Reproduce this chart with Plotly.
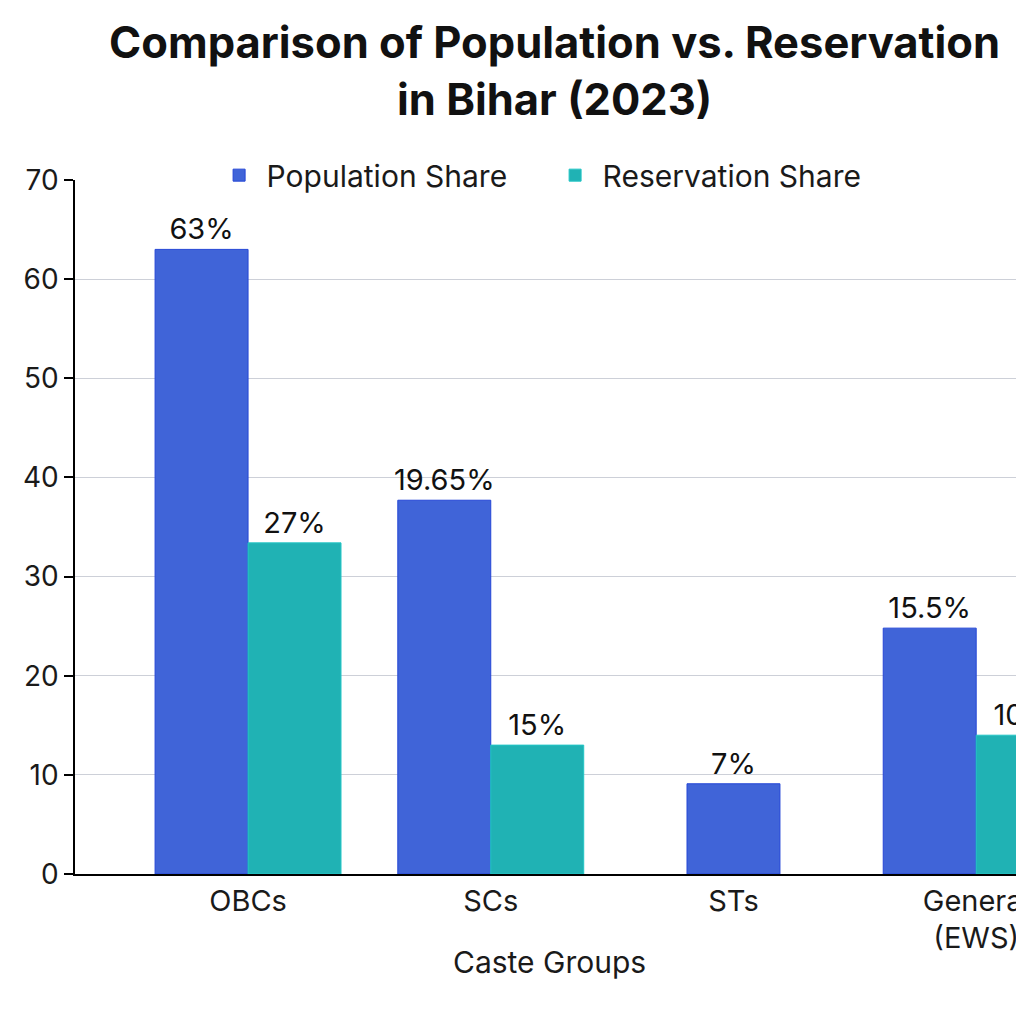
import plotly.graph_objects as go

# Bar heights as drawn in the source image, with the labels it prints on top
categories = ["OBCs", "SCs", "STs", "General<br>(EWS)"]
population_height = [63, 37.7, 9.1, 24.8]
reservation_height = [33.4, 13.0, None, 14.0]
population_labels = ["63%", "19.65%", "7%", "15.5%"]
reservation_labels = ["27%", "15%", "", "10%"]

W = 0.383  # width of one bar in category units
FONT = "Inter, Roboto, sans-serif"

pop = go.Bar(
    name="Population Share",
    x=categories, y=population_height,
    text=population_labels, textposition="outside",
    constraintext="none", cliponaxis=True,
    width=W,
    # STs has no reservation bar, so its population bar sits centred
    offset=[-W, -W, -W / 2, -W],
    marker=dict(color="#4064D8", line=dict(color="#2446D6", width=1)),
    textfont=dict(size=29, color="#111111"),
)
res = go.Bar(
    name="Reservation Share",
    x=categories, y=reservation_height,
    text=reservation_labels, textposition="outside",
    constraintext="none", cliponaxis=True,
    width=W, offset=0,
    marker=dict(color="#20B2B4", line=dict(color="#22C6C6", width=1)),
    textfont=dict(size=29, color="#111111"),
)

fig = go.Figure([pop, res])
# the page puts the figure 8px in from the top-left corner
fig.update_layout(
    width=1016, height=1008,
    margin=dict(l=67, r=0, t=172, b=142),
    paper_bgcolor="white", plot_bgcolor="white",
    font=dict(family=FONT, size=28, color="#1a1a1a"),
    title=dict(
        text="<b>Comparison of Population vs. Reservation<br>in Bihar (2023)</b>",
        x=0.538, xanchor="center", y=0.95, yanchor="top",
        font=dict(size=43.5, color="#111111"),
    ),
    legend=dict(
        orientation="h", x=0.498, xanchor="center", y=1.007, yanchor="middle",
        font=dict(size=30), itemwidth=45, entrywidth=276,
        bgcolor="rgba(0,0,0,0)",
    ),
    showlegend=True,
    annotations=[dict(
        text="Caste Groups", xref="paper", yref="paper",
        x=0.5, y=-0.127, xanchor="center", yanchor="middle",
        showarrow=False, font=dict(size=30),
    )],
)
fig.update_xaxes(
    range=[-0.713, 3.197], automargin=False,
    showline=True, linecolor="black", linewidth=1.5,
    ticks="", tickfont=dict(size=29),
)
fig.update_yaxes(
    range=[0, 70], dtick=10, automargin=False,
    showline=True, linecolor="black", linewidth=1.5,
    ticks="outside", ticklen=9, tickcolor="black", tickwidth=1.5,
    showgrid=True, gridcolor="#CDD0D8", gridwidth=1,
    zeroline=False, tickfont=dict(size=28),
)

fig.write_html("out.html")
